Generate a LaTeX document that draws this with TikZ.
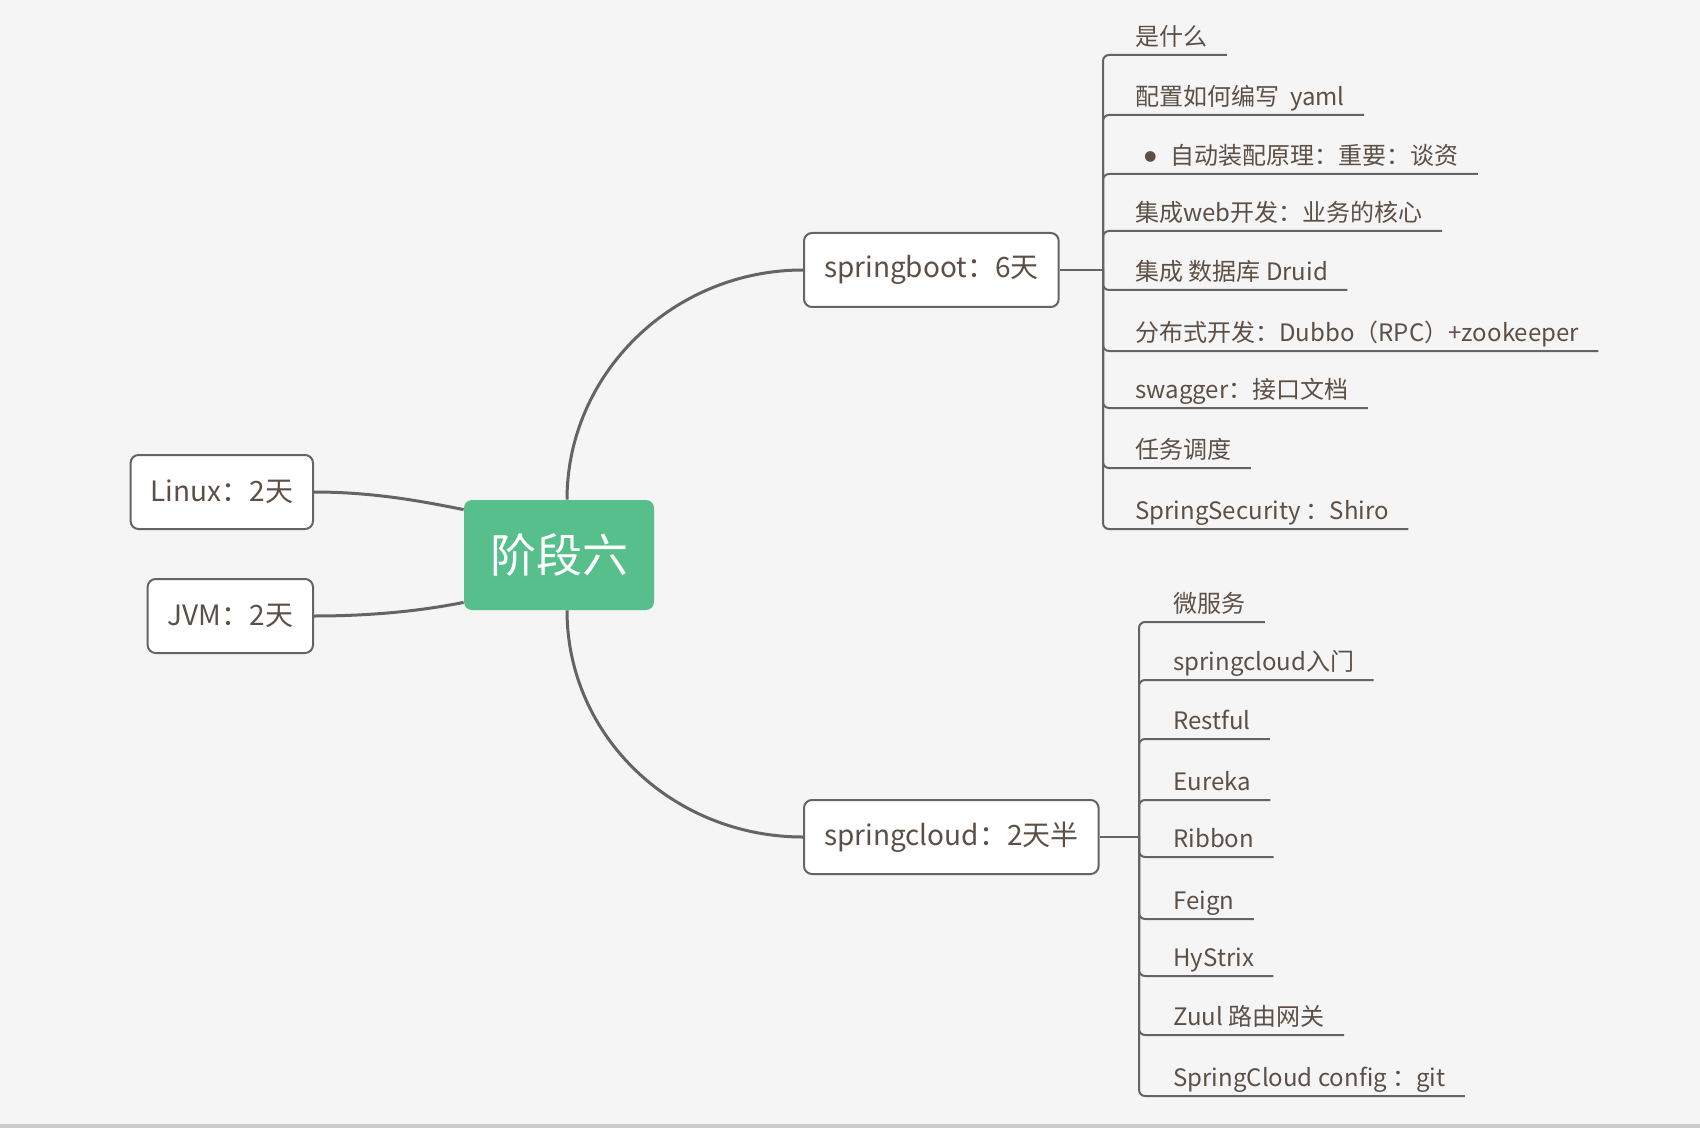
\documentclass[tikz,border=0pt]{standalone}
\usepackage{fontspec}
\setmainfont{Noto Sans CJK SC}
\usetikzlibrary{calc}
\definecolor{bgcol}{RGB}{245,245,245}
\definecolor{txtcol}{RGB}{92,80,70}
\definecolor{linecol}{RGB}{100,100,100}
\definecolor{rootcol}{RGB}{87,191,140}

\begin{document}
\begin{tikzpicture}[x=0.5pt,y=-0.5pt,
        topic/.style={draw=linecol, line width=1pt, fill=white, rounded corners=4pt, inner xsep=10pt, minimum height=37pt, font=\fontsize{14}{16}\selectfont, text=txtcol},
        leaf/.style={anchor=south west, inner sep=0pt, text depth=4.5pt, font=\fontsize{12}{14}\selectfont, text=txtcol},
        mainline/.style={draw=linecol, line width=1.5pt},
        subline/.style={draw=linecol, line width=1pt, rounded corners=3pt}]
        \fill[bgcol] (0,0) rectangle (1700,1128);
        \fill[black!20] (0,1124) rectangle (1700,1128);
        \useasboundingbox (0,0) rectangle (1700,1128);

        \node (root) [fill=rootcol, rounded corners=4pt, minimum width=95pt, minimum height=55pt, text=white, font=\fontsize{23}{26}\selectfont] at (559,555) {阶段六};
        \node (linux) [topic, anchor=east] at (314,492) {Linux：2天};
        \node (jvm) [topic, anchor=east] at (314,616) {JVM：2天};
        \node (sb) [topic, anchor=west] at (803,270) {springboot：6天};
        \node (sc) [topic, anchor=west] at (803,837) {springcloud：2天半};

        \draw[mainline] ([xshift=4pt]root.north) .. controls +(0,-126) and +(-130,0) .. (sb.west);
        \draw[mainline] ([xshift=4pt]root.south) .. controls +(0,126) and +(-130,0) .. (sc.west);
        \draw[mainline] (linux.east) .. controls +(60,0) and +(-40,-8) .. ([yshift=-5pt]root.north west);
        \draw[mainline] (jvm.east) .. controls +(60,0) and +(-40,8) .. ([yshift=4pt]root.south west);

        % springboot
        \coordinate (sbhub) at (1103,270);
        \draw[subline] (sb.east) -- (sbhub);
        \node (sb1) [leaf] at (1135,55) {是什么};
        \node (sb2) [leaf] at (1135,115) {配置如何编写\ \ yaml};
        \node (sb3) [leaf] at (1135,174) {\hspace{4.5pt}\raisebox{1.5pt}{\fontsize{6}{6}\selectfont ●}\hspace{7pt}自动装配原理：重要：谈资};
        \node (sb4) [leaf] at (1135,231) {集成web开发：业务的核心};
        \node (sb5) [leaf] at (1135,290) {集成 数据库 Druid};
        \node (sb6) [leaf] at (1135,351) {分布式开发：Dubbo（RPC）+zookeeper};
        \node (sb7) [leaf] at (1135,408) {swagger：接口文档};
        \node (sb8) [leaf] at (1135,468) {任务调度};
        \node (sb9) [leaf] at (1135,529) {SpringSecurity ：Shiro};
        \draw[subline] (sbhub) |- ([xshift=9.5pt]sb1.south east);
        \draw[subline] (sbhub) |- ([xshift=9.5pt]sb2.south east);
        \draw[subline] (sbhub) |- ([xshift=9.5pt]sb3.south east);
        \draw[subline] (sbhub) |- ([xshift=9.5pt]sb4.south east);
        \draw[subline] (sbhub) |- ([xshift=9.5pt]sb5.south east);
        \draw[subline] (sbhub) |- ([xshift=9.5pt]sb6.south east);
        \draw[subline] (sbhub) |- ([xshift=9.5pt]sb7.south east);
        \draw[subline] (sbhub) |- ([xshift=9.5pt]sb8.south east);
        \draw[subline] (sbhub) |- ([xshift=9.5pt]sb9.south east);

        % springcloud
        \coordinate (schub) at (1139,837);
        \draw[subline] (sc.east) -- (schub);
        \node (sc1) [leaf] at (1173,622) {微服务};
        \node (sc2) [leaf] at (1173,680) {springcloud入门};
        \node (sc3) [leaf] at (1173,739) {Restful};
        \node (sc4) [leaf] at (1173,800) {Eureka};
        \node (sc5) [leaf] at (1173,857) {Ribbon};
        \node (sc6) [leaf] at (1173,919) {Feign};
        \node (sc7) [leaf] at (1173,976) {HyStrix};
        \node (sc8) [leaf] at (1173,1035) {Zuul 路由网关};
        \node (sc9) [leaf] at (1173,1096) {SpringCloud config ：git};
        \draw[subline] (schub) |- ([xshift=9.5pt]sc1.south east);
        \draw[subline] (schub) |- ([xshift=9.5pt]sc2.south east);
        \draw[subline] (schub) |- ([xshift=9.5pt]sc3.south east);
        \draw[subline] (schub) |- ([xshift=9.5pt]sc4.south east);
        \draw[subline] (schub) |- ([xshift=9.5pt]sc5.south east);
        \draw[subline] (schub) |- ([xshift=9.5pt]sc6.south east);
        \draw[subline] (schub) |- ([xshift=9.5pt]sc7.south east);
        \draw[subline] (schub) |- ([xshift=9.5pt]sc8.south east);
        \draw[subline] (schub) |- ([xshift=9.5pt]sc9.south east);
\end{tikzpicture}
\end{document}
